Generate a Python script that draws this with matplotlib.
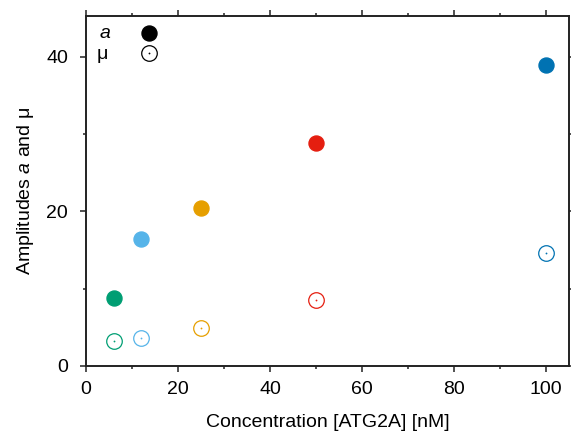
import numpy as np
import matplotlib
matplotlib.use('Agg')
import matplotlib.pyplot as plt
from matplotlib.ticker import MultipleLocator

plt.rcParams['font.family'] = ['Liberation Sans', 'DejaVu Sans']
plt.rcParams['mathtext.fontset'] = 'custom'
plt.rcParams['mathtext.it'] = 'Liberation Sans:italic'
plt.rcParams['mathtext.rm'] = 'Liberation Sans'

# data
conc = [6, 12, 25, 50, 100]
amp_a = [8.8, 16.4, 20.4, 28.9, 39.0]
amp_mu = [3.2, 3.6, 4.9, 8.5, 14.6]
colors = ['#009e73', '#56b4e9', '#e69f00', '#e51e10', '#0072b2']

fig = plt.figure(figsize=(5.71, 4.36), dpi=100)
ax = fig.add_axes([86/571, 1-366/436, (569-86)/571, (366-16)/436])

for x, a, m, c in zip(conc, amp_a, amp_mu, colors):
    ax.plot(x, a, 'o', ms=10.8, color=c, mec=c, mew=1.0)
    ax.plot(x, m, 'o', ms=11.2, mfc='none', mec=c, mew=0.9)
    ax.plot(x, m, 'o', ms=1.3, color=c, mew=0)

# legend drawn by hand in axes fraction
ax.text(0.026, 0.951, '$a$', transform=ax.transAxes, fontsize=14, ha='left', va='center')
ax.plot(0.130, 0.951, 'o', ms=10.8, color='k', mew=1.0, transform=ax.transAxes)
ax.text(0.022, 0.890, 'μ', transform=ax.transAxes, fontsize=14, ha='left', va='center')
ax.plot(0.130, 0.894, 'o', ms=11.2, mfc='none', mec='k', mew=0.9, transform=ax.transAxes)
ax.plot(0.130, 0.894, 'o', ms=1.3, color='k', mew=0, transform=ax.transAxes)

ax.set_xlim(0, 105)
ax.set_ylim(0, 45.3)
ax.xaxis.set_major_locator(MultipleLocator(20))
ax.xaxis.set_minor_locator(MultipleLocator(10))
ax.yaxis.set_major_locator(MultipleLocator(20))
ax.yaxis.set_minor_locator(MultipleLocator(10))
ax.tick_params(which='both', direction='out', top=True, right=True, labelsize=14, color='#333333')
ax.tick_params(which='major', length=4, width=1.2)
ax.tick_params(which='minor', length=2.5, width=1.2)
ax.tick_params(axis='y', pad=9)
ax.tick_params(axis='x', pad=7)
for s in ax.spines.values():
    s.set_linewidth(1.4)
    s.set_color('#222222')

ax.set_xlabel('Concentration [ATG2A] [nM]', fontsize=14, labelpad=11)
ax.set_ylabel('Amplitudes $a$ and μ', fontsize=14, labelpad=7)

plt.savefig('out.png', dpi=100)
